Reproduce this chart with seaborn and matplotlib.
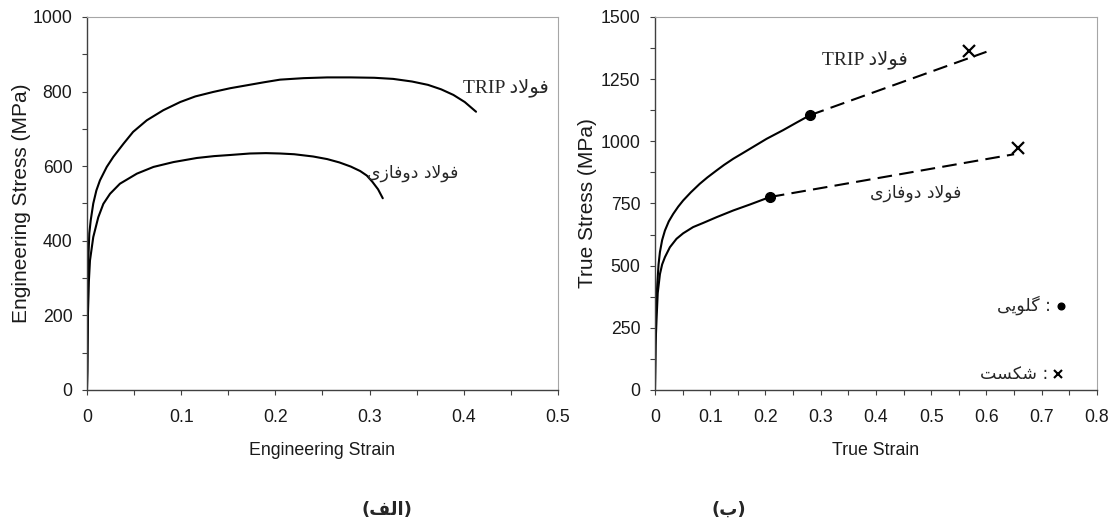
import matplotlib
matplotlib.use('Agg')
import matplotlib.pyplot as plt
import matplotlib.ticker as mticker
import seaborn as sns

sns.set_theme(style='ticks')
plt.rcParams['font.family'] = ['Liberation Sans', 'DejaVu Sans']

# engineering curves (left panel)
eng_trip_strain = [0.0, 0.0005, 0.001, 0.0014, 0.0025, 0.004, 0.0067, 0.01, 0.0138, 0.021, 0.028,
                   0.0387, 0.049, 0.0635, 0.081, 0.099, 0.115, 0.134, 0.152, 0.170, 0.188, 0.205,
                   0.23, 0.255, 0.28, 0.305, 0.325, 0.345, 0.362, 0.376, 0.389, 0.401, 0.413]
eng_trip_stress = [0, 50, 200, 347, 420, 455, 500, 535, 562, 598, 625,
                   660, 692, 723, 750, 772, 787, 799, 809, 817, 825, 832,
                   836, 838, 838, 837, 834, 827, 818, 806, 791, 772, 746]
eng_dp_strain = [0.0, 0.0004, 0.001, 0.002, 0.0032, 0.0067, 0.012, 0.0174, 0.0245, 0.035, 0.053,
                 0.0706, 0.0918, 0.1167, 0.135, 0.152, 0.173, 0.19, 0.205, 0.22, 0.24, 0.255,
                 0.268, 0.28, 0.29, 0.297, 0.303, 0.309, 0.314]
eng_dp_stress = [0, 120, 200, 290, 347, 410, 463, 499, 526, 553, 580,
                 598, 611, 622, 627, 630, 634, 635, 634, 632, 626, 619,
                 610, 599, 587, 575, 558, 538, 514]

# true curves (right panel), solid up to necking
true_trip_strain = [0.0, 0.0005, 0.001, 0.002, 0.0042, 0.0065, 0.009, 0.013, 0.018, 0.025, 0.033,
                    0.042, 0.051, 0.065, 0.081, 0.095, 0.1116, 0.125, 0.1418, 0.157, 0.172,
                    0.187, 0.202, 0.232, 0.256, 0.2805]
true_trip_stress = [0, 100, 200, 330, 426, 505, 555, 603, 641, 678, 708,
                    737, 762, 795, 829, 855, 883, 905, 930, 950, 970,
                    990, 1010, 1045, 1075, 1105]
true_dp_strain = [0.0, 0.0005, 0.001, 0.003, 0.005, 0.009, 0.013, 0.018, 0.027, 0.039, 0.051,
                  0.069, 0.0875, 0.1116, 0.1418, 0.172, 0.208]
true_dp_stress = [0, 100, 180, 292, 390, 466, 505, 534, 574, 608, 630,
                  655, 672, 695, 722, 746, 776]

# dashed extrapolation after necking
ext_trip_strain = [0.2805, 0.60]
ext_trip_stress = [1105, 1360]
ext_dp_strain = [0.208, 0.65]
ext_dp_stress = [776, 948]

# necking and fracture points
neck_strain = [0.2805, 0.208]
neck_stress = [1105, 776]
frac_strain = [0.568, 0.657]
frac_stress = [1362, 972]

# labels (Persian in shaped presentation forms, visual order)
lbl_trip = 'TRIP \uFEA9\uFEFB\uFEEE\uFED3'
lbl_dp = '\uFBFC\uFEAF\uFE8E\uFED3\uFEED\uFEA9 \uFEA9\uFEFB\uFEEE\uFED3'
lbl_neck = '\uFBFD\uFBFE\uFEEE\uFEE0\uFB94 :'
lbl_frac = '\uFE96\uFEB4\uFB91\uFEB7 :'
lbl_a = '(\uFED2\uFEDF\uFE8D)'
lbl_b = '(\uFE8F)'

fig = plt.figure(figsize=(11.12, 5.29), dpi=100)
ax1 = fig.add_axes([0.0782, 0.2628, 0.4236, 0.7051])
ax2 = fig.add_axes([0.5890, 0.2628, 0.3975, 0.7051])

LW = 1.5
dash = (0, (7, 3.5))

sns.lineplot(x=eng_trip_strain, y=eng_trip_stress, ax=ax1, color='black', lw=LW, sort=False)
sns.lineplot(x=eng_dp_strain, y=eng_dp_stress, ax=ax1, color='black', lw=LW, sort=False)

sns.lineplot(x=true_trip_strain, y=true_trip_stress, ax=ax2, color='black', lw=LW, sort=False)
sns.lineplot(x=true_dp_strain, y=true_dp_stress, ax=ax2, color='black', lw=LW, sort=False)
sns.lineplot(x=ext_trip_strain, y=ext_trip_stress, ax=ax2, color='black', lw=LW, linestyle=dash)
sns.lineplot(x=ext_dp_strain, y=ext_dp_stress, ax=ax2, color='black', lw=LW, linestyle=dash)
ax2.plot(neck_strain, neck_stress, 'o', color='black', ms=7, zorder=5)
ax2.plot(frac_strain, frac_stress, 'x', color='black', ms=8, mew=1.6, zorder=5)

# key
ax2.plot([0.735], [339], 'o', color='black', ms=4.8)
ax2.plot([0.730], [65], 'x', color='black', ms=5.5, mew=1.5)
ax2.text(0.716, 339, lbl_neck, ha='right', va='center', fontsize=12.5, family='DejaVu Sans')
ax2.text(0.7125, 65, lbl_frac, ha='right', va='center', fontsize=12.5, family='DejaVu Sans')

serif = ['Liberation Serif', 'DejaVu Sans']
ax1.text(0.399, 810, lbl_trip, ha='left', va='center', fontsize=14, family=serif)
ax1.text(0.346, 583, lbl_dp, ha='center', va='center', fontsize=12.4, family='DejaVu Sans')
ax2.text(0.38, 1327, lbl_trip, ha='center', va='center', fontsize=14, family=serif)
ax2.text(0.472, 791, lbl_dp, ha='center', va='center', fontsize=12.4, family='DejaVu Sans')

ax1.set_xlim(0, 0.5)
ax1.set_ylim(0, 1000)
ax1.xaxis.set_major_locator(mticker.MultipleLocator(0.1))
ax1.xaxis.set_minor_locator(mticker.MultipleLocator(0.05))
ax1.yaxis.set_major_locator(mticker.MultipleLocator(200))
ax1.yaxis.set_minor_locator(mticker.MultipleLocator(100))
ax1.xaxis.set_major_formatter(mticker.FuncFormatter(lambda v, _: '0' if v == 0 else f'{v:.1f}'))
ax1.set_xlabel('Engineering Strain', fontsize=12.8)
ax1.set_ylabel('Engineering Stress (MPa)', fontsize=15)

ax2.set_xlim(0, 0.8)
ax2.set_ylim(0, 1500)
ax2.xaxis.set_major_locator(mticker.MultipleLocator(0.1))
ax2.xaxis.set_minor_locator(mticker.MultipleLocator(0.05))
ax2.yaxis.set_major_locator(mticker.MultipleLocator(250))
ax2.yaxis.set_minor_locator(mticker.MultipleLocator(125))
ax2.xaxis.set_major_formatter(mticker.FuncFormatter(lambda v, _: '0' if v == 0 else f'{v:.1f}'))
ax2.set_xlabel('True Strain', fontsize=12.8)
ax2.set_ylabel('True Stress (MPa)', fontsize=15)

for ax in (ax1, ax2):
    for s in ('left', 'bottom'):
        ax.spines[s].set_color('#404040')
        ax.spines[s].set_linewidth(1.0)
    for s in ('top', 'right'):
        ax.spines[s].set_color('#a6a6a6')
        ax.spines[s].set_linewidth(0.8)
    ax.tick_params(which='both', direction='out', length=3.5, width=0.8, color='#404040',
                   labelsize=12.7, labelcolor='#1a1a1a')
    ax.tick_params(axis='x', which='both', pad=10)
    ax.tick_params(axis='y', which='both', pad=7)
    ax.xaxis.label.set_color('#1a1a1a')
    ax.yaxis.label.set_color('#1a1a1a')

ax1.yaxis.set_label_coords(-0.119, 0.5)
ax2.yaxis.set_label_coords(-0.131, 0.5)
ax1.xaxis.set_label_coords(0.5, -0.14)
ax2.xaxis.set_label_coords(0.5, -0.14)

fig.text(0.348, 0.036, lbl_a, ha='center', va='center', fontsize=13, fontweight='bold',
         family='DejaVu Sans')
fig.text(0.655, 0.036, lbl_b, ha='center', va='center', fontsize=13, fontweight='bold',
         family='DejaVu Sans')

fig.savefig('out.png', dpi=100)
